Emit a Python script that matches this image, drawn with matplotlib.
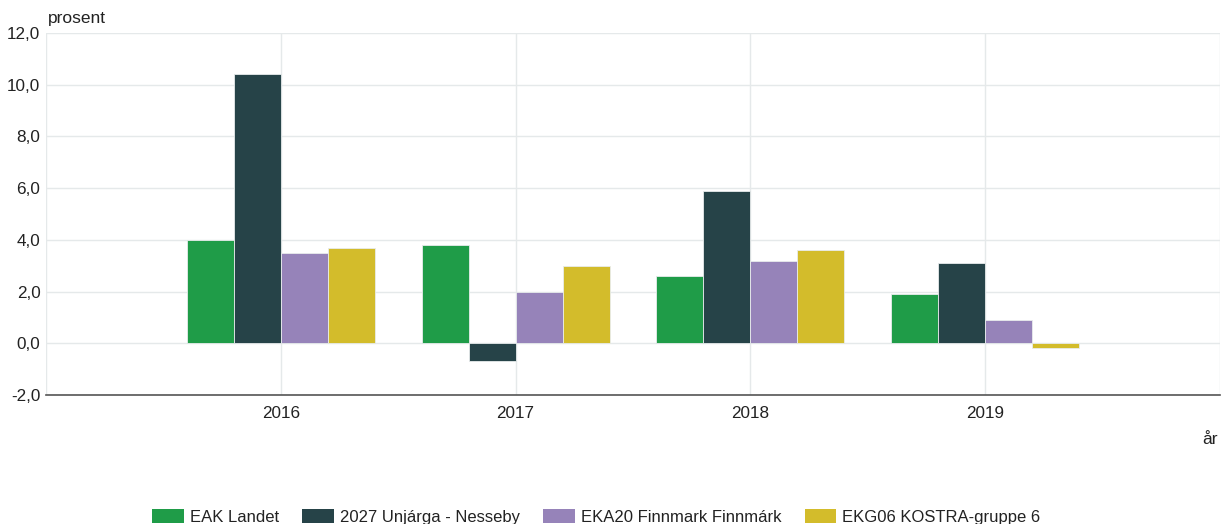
import matplotlib
matplotlib.use("Agg")
import matplotlib.pyplot as plt
import numpy as np
from matplotlib.patches import Patch

plt.rcParams['font.family'] = ['Liberation Sans', 'DejaVu Sans']

years = ["2016", "2017", "2018", "2019"]
series_names = ["EAK Landet", "2027 Unjárga - Nesseby", "EKA20 Finnmark Finnmárk", "EKG06 KOSTRA-gruppe 6"]
eak_landet = [4.0, 3.8, 2.6, 1.9]
nesseby = [10.4, -0.7, 5.9, 3.1]
finnmark = [3.5, 2.0, 3.2, 0.9]
kostra6 = [3.7, 3.0, 3.6, -0.2]
colors = ["#1f9c48", "#264348", "#9683b9", "#d3bc2b"]
yticks = [-2, 0, 2, 4, 6, 8, 10, 12]

fig = plt.figure(figsize=(12.27, 5.24), dpi=100)
ax = fig.add_axes([46/1227, (524-395)/524, (1220-46)/1227, (395-33)/524])

x = np.arange(len(years))
w = 0.2
for i, (vals, c) in enumerate(zip([eak_landet, nesseby, finnmark, kostra6], colors)):
    ax.bar(x + (i - 1.5) * w, vals, width=w, color=c, edgecolor="#e8ecec", linewidth=0.6, zorder=3)

ax.set_xlim(-1, 4)
ax.set_ylim(-2, 12)
ax.set_yticks(yticks)
ax.set_yticklabels([f"{v:.1f}".replace(".", ",") for v in yticks])
ax.set_xticks(x)
ax.set_xticklabels(years)
ax.tick_params(axis="both", length=0, labelsize=12.3, colors="#222222")
ax.tick_params(axis="x", pad=8)
ax.tick_params(axis="y", pad=4)

ax.grid(axis="y", color="#e5e9ea", linewidth=1, zorder=0)
for xv in [-1, 0, 1, 2, 3, 4]:
    ax.axvline(xv, color="#e5e9ea", linewidth=1, zorder=0)

for s in ["top", "right", "left"]:
    ax.spines[s].set_visible(False)
ax.spines["bottom"].set_color("#555555")
ax.spines["bottom"].set_linewidth(1.2)
ax.spines["bottom"].set_position(("data", -2))

fig.text(48/1227, (524-18)/524, "prosent", fontsize=12.5, color="#222222", va="center", ha="left")
fig.text(1210/1227, (524-440)/524, "år", fontsize=12.5, color="#222222", va="center", ha="center")

handles = [Patch(facecolor=c, edgecolor="none") for c in colors]
fig.legend(handles, series_names, loc="center", bbox_to_anchor=(0.486, (524-517)/524), ncol=4,
           frameon=False, fontsize=12, handlelength=1.9, handleheight=0.85, handletextpad=0.36,
           columnspacing=1.4, labelcolor="#222222")

fig.savefig("out.png", dpi=100)
